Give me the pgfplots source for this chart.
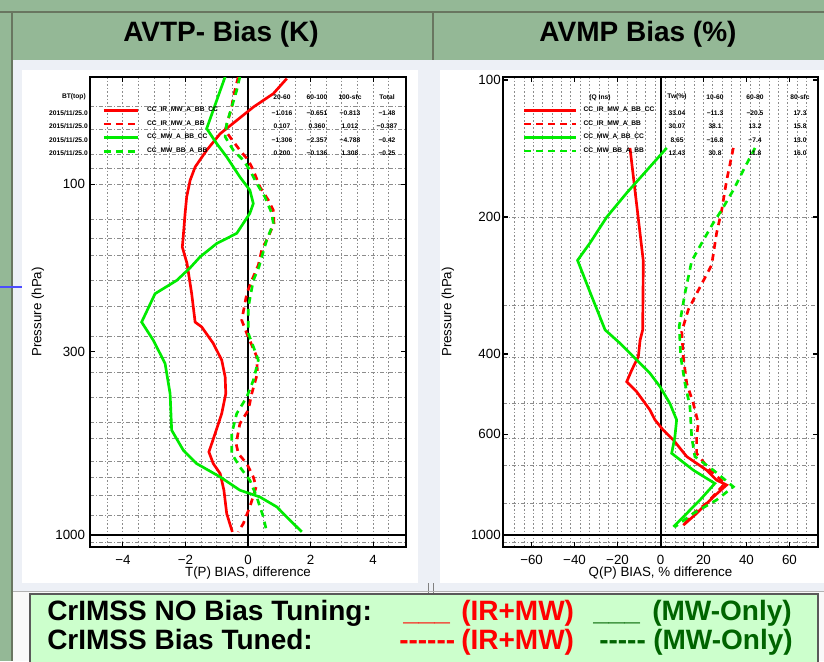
\documentclass[border=0pt]{standalone}
\usepackage{pgfplots}
\pgfplotsset{compat=1.18}
\usepackage{fontspec}
\setmainfont{Liberation Sans}
\definecolor{hdrgreen}{RGB}{148,184,150}
\definecolor{hdrline}{RGB}{105,118,96}
\definecolor{contentbg}{RGB}{237,240,246}
\definecolor{boxgreen}{RGB}{204,255,204}
\definecolor{pred}{RGB}{255,0,0}
\definecolor{pgreen}{RGB}{0,235,0}
\definecolor{dkgreen}{RGB}{0,100,0}
\definecolor{gridgray}{RGB}{140,140,140}
\tikzset{
 rs/.style={pred, line width=2pt},
 rd/.style={pred, line width=2pt, dash pattern=on 5pt off 4pt},
 gs/.style={pgreen, line width=2pt},
 gd/.style={pgreen, line width=2pt, dash pattern=on 5pt off 4pt},
}
\begin{document}
\begin{tikzpicture}
\begin{scope}[x=0.75pt,y=-0.75pt]
\path[use as bounding box] (0,0) rectangle (824,661);
\fill[hdrgreen] (0,0) rectangle (824,661);
\fill[contentbg] (13,60) rectangle (824,591);
\fill[white] (22,70) rectangle (418,583);
\fill[white] (440,70) rectangle (824,583);
\fill[white!95!gray] (13,591) rectangle (824,661);
\draw[hdrline, line width=1.2pt] (0,12) -- (824,12);
\draw[hdrline, line width=1.2pt] (12,12) -- (12,661);
\draw[hdrline, line width=1.2pt] (433,12) -- (433,60);
\draw[gray, line width=0.6pt] (428,583) -- (428,596);
\draw[gray, line width=0.6pt] (433,583) -- (433,596);
\draw[gray!60, line width=0.6pt] (13,591) -- (824,591);
\draw[blue!70, line width=0.8pt] (0,287) -- (22,287);
\filldraw[fill=boxgreen, draw=gray!70!black, line width=1pt] (30,594) rectangle (818,666);
\node[font=\fontsize{21}{25}\selectfont\bfseries] at (221,34) {AVTP- Bias (K)};
\node[font=\fontsize{21}{25}\selectfont\bfseries] at (638,34) {AVMP Bias (\%)};
\end{scope}

% ---------------- left axis: temperature bias
\begin{axis}[scale only axis, anchor=south west, ymode=log, y dir=reverse,
 at={(67.5pt,-410.25pt)}, width=237pt, height=352.5pt,
 axis line style={black, line width=1.5pt},
 tick style={black, line width=0.8pt},
 major tick length=3.75pt, minor tick length=0pt, tick align=inside,
 xmajorgrids=false, ymajorgrids=false, xminorgrids=true, yminorgrids=true,
 minor x grid style={gridgray, line width=0.6pt, dash pattern=on 1.2pt off 1.5pt},
 minor y grid style={gridgray, line width=0.6pt, dash pattern=on 3pt off 1.5pt on 0.8pt off 1.5pt},
 tick label style={font=\fontsize{10}{12}\selectfont},
 xticklabel style={anchor=center, yshift=-9.75pt},
 yticklabel style={anchor=east, inner sep=0pt, xshift=-3.5pt},
 label style={font=\fontsize{10}{12}\selectfont},
 legend cell align=left,
 legend style={draw=none, fill=none, inner sep=0pt, outer sep=0pt,
     font=\fontsize{5}{6}\selectfont\bfseries, row sep=5.2pt,
     nodes={inner sep=0pt}, at={(axis cs:-4.65,60.3)}, anchor=north west},
 legend image code/.code={\draw[#1] (0pt,0pt) -- (25.5pt,0pt); \path (31.5pt,0pt);},
 xmin=-5.05, xmax=5.05, ymin=49.5, ymax=1080,
 xtick={-4,-2,0,2,4}, xticklabels={−4,−2,0,2,4},
 ytick={100,300,1000}, yticklabels={100,300,1000},
 minor xtick={-4.5,-4,...,4.5},
 minor ytick={60,70,82,90,100,126,143,159,188,223,271,311,343,404,477,529,615,684,769,877,1047},
 xlabel={T(P) BIAS, difference}, ylabel={Pressure (hPa)},
 xlabel style={at={(axis description cs:0.5,-0.0553)}, anchor=center},
 ylabel style={at={(axis description cs:-0.165,0.5)}, anchor=center},
]
\addplot[black, line width=1.5pt, forget plot] coordinates {(0,40) (0,1200)};
\addplot[black, line width=1.5pt, forget plot] coordinates {(-5.05,1000) (5.05,1000)};
\addplot[rs] coordinates {(1.24,50) (0.81,55.2) (0.17,60.3) (-0.36,65.8) (-0.89,71.8) (-1.32,80) (-1.69,89.3) (-1.85,97.5) (-1.96,108.7) (-2.01,121) (-2.07,141) (-2.1,151) (-1.95,168) (-1.8,205) (-1.69,247) (-1.48,255) (-1.11,284) (-0.84,317) (-0.73,354) (-0.71,395) (-0.84,450) (-1.05,513) (-1.25,579) (-1.11,625) (-0.89,667) (-0.77,744) (-0.68,868) (-0.5,978)};
\addplot[rd] coordinates {(-0.31,49.4) (-0.47,56.4) (-0.52,60.3) (-0.73,70.2) (-0.58,73.3) (-0.26,80) (0.01,85.4) (0.17,91.2) (0.38,101.8) (0.65,111) (0.81,118.7) (0.83,129.4) (0.65,141) (0.44,154) (0.33,170) (0.12,188) (-0.04,205) (-0.2,244) (-0.04,266) (0.28,310) (0.3,346) (0.12,395) (0.01,440) (-0.26,481) (-0.38,548) (-0.31,585) (-0.04,625) (0.17,682) (0.26,728) (0.06,830) (-0.15,926) (-0.31,978)};
\addplot[gs] coordinates {(-0.73,49.4) (-1.0,57.7) (-1.32,69.4) (-1.0,76.6) (-0.68,83.6) (-0.26,95.3) (0.06,104) (0.17,113.5) (0.06,121) (-0.36,138) (-1.0,147.5) (-1.53,161) (-1.85,173) (-2.28,188) (-2.97,205) (-3.4,247) (-3.03,278) (-2.65,324) (-2.49,395) (-2.44,502) (-2.07,572) (-1.64,625) (-0.89,682) (-0.26,744) (0.38,778) (0.92,830) (1.24,887) (1.72,978)};
\addplot[gd] coordinates {(-0.26,49.4) (-0.36,54) (-0.52,60.3) (-0.68,67.2) (-0.73,73.3) (-0.47,80) (-0.15,85.4) (0.06,91.2) (0.28,99.5) (0.54,108.7) (0.76,121) (0.81,129.4) (0.6,144) (0.44,161) (0.35,172) (0.17,188) (0.01,224) (0.01,266) (0.17,290) (0.33,317) (0.17,362) (-0.04,404) (-0.36,450) (-0.52,513) (-0.52,585) (-0.26,639) (0.06,697) (0.28,778) (0.49,887) (0.6,978)};
\legend{CC\_IR\_MW\_A\_BB\_CC, CC\_IR\_MW\_A\_BB, CC\_MW\_A\_BB\_CC, CC\_MW\_BB\_A\_BB}
\end{axis}

% ---------------- right axis: moisture bias
\begin{axis}[scale only axis, anchor=south west, ymode=log, y dir=reverse,
 at={(377.25pt,-410.25pt)}, width=236.25pt, height=352.5pt,
 axis line style={black, line width=1.5pt},
 tick style={black, line width=0.8pt},
 major tick length=3.75pt, minor tick length=0pt, tick align=inside,
 xmajorgrids=false, ymajorgrids=false, xminorgrids=true, yminorgrids=true,
 minor x grid style={gridgray, line width=0.6pt, dash pattern=on 1.2pt off 1.5pt},
 minor y grid style={gridgray, line width=0.6pt, dash pattern=on 3pt off 1.5pt on 0.8pt off 1.5pt},
 tick label style={font=\fontsize{10}{12}\selectfont},
 xticklabel style={anchor=center, yshift=-9.75pt},
 yticklabel style={anchor=east, inner sep=0pt, xshift=-1.5pt},
 label style={font=\fontsize{10}{12}\selectfont},
 legend cell align=left,
 legend style={draw=none, fill=none, inner sep=0pt, outer sep=0pt,
     font=\fontsize{5}{6}\selectfont\bfseries, row sep=5.2pt,
     nodes={inner sep=0pt}, at={(axis cs:-64,114.6)}, anchor=north west},
 legend image code/.code={\draw[#1] (0pt,0pt) -- (39pt,0pt); \path (43.5pt,0pt);},
 xmin=-73.3, xmax=73.3, ymin=98.5, ymax=1062,
 xtick={-60,-40,-20,0,20,40,60}, xticklabels={−60,−40,−20,0,20,40,60},
 ytick={100,200,400,600,1000}, yticklabels={100,200,400,600,1000},
 minor xtick={-67.9,-63.54,-59.18,-54.82,-50.46,-46.1,-41.74,-37.38,-33.02,-28.66,-24.3,-19.94,-15.58,-11.22,-6.86,-2.5,2.5,6.86,11.22,15.58,19.94,24.3,28.66,33.02,37.38,41.74,46.1,50.46,54.82,59.18,63.54,67.9},
 minor ytick={200,312,406,513,612,702,851,1036},
 xlabel={Q(P) BIAS, \% difference}, ylabel={Pressure (hPa)},
 xlabel style={at={(axis description cs:0.5,-0.0553)}, anchor=center},
 ylabel style={at={(axis description cs:-0.175,0.5)}, anchor=center},
]
\addplot[black, line width=1.5pt, forget plot] coordinates {(0,90) (0,1200)};
\addplot[black, line width=1.5pt, forget plot] coordinates {(-73.3,1000) (73.3,1000)};
\addplot[rs] coordinates {(-14.2,141) (-8.0,250) (-8.3,354) (-9.5,373) (-10.3,405) (-13.4,434) (-15.7,460) (-11.1,484) (-4.9,531) (-2.6,558) (1.3,588) (6.0,618) (12.2,672) (21.5,720) (26.1,757) (30.8,776) (24.6,824) (16.8,896) (10.6,951)};
\addplot[rd] coordinates {(33.9,141) (30.8,166) (28.5,193) (26.1,217) (23.8,255) (18.4,285) (12.9,320) (9.9,357) (10.6,405) (12.2,464) (15.3,514) (17.6,568) (16.8,608) (16.8,661) (23.0,720) (30.0,770) (21.5,851) (15.3,896) (11.4,942)};
\addplot[gs] coordinates {(2.9,141) (-6.4,158) (-15.7,177) (-25.0,200) (-32.8,228) (-38.6,249) (-32.0,299) (-25.8,354) (-18.8,379) (-11.1,412) (-4.9,441) (-0.2,472) (4.4,514) (7.5,558) (6.7,608) (5.2,661) (15.3,720) (25.3,770) (18.4,837) (12.2,896) (6.0,959)};
\addplot[gd] coordinates {(44.0,141) (38.5,158) (33.9,174.5) (28.5,193) (24.6,206) (19.9,225) (14.5,250) (11.4,294) (8.7,348) (9.4,405) (11.4,464) (13.7,522) (14.5,608) (16.0,672) (24.6,720) (33.9,783) (26.1,837) (15.3,896) (6.7,959)};
\legend{CC\_IR\_MW\_A\_BB\_CC, CC\_IR\_MW\_A\_BB, CC\_MW\_A\_BB\_CC, CC\_MW\_BB\_A\_BB}
\end{axis}

\begin{scope}[x=0.75pt,y=-0.75pt]
\begin{scope}[every node/.style={font=\fontsize{5}{6}\selectfont\bfseries, inner sep=0pt}]
\node[anchor=east] at (86,97) {BT(top)};
\foreach \yy in {113,126.5,140,153.5} {\node[anchor=east] at (88,\yy) {2015/11/25.0};}
\node at (282,97) {20-60}; \node at (317,97) {60-100}; \node at (350,97) {100-sfc}; \node at (387,97) {Total};
\node at (282,113) {−1.016}; \node at (317,113) {−0.651}; \node at (350,113) {−0.813}; \node at (387,113) {−1.48};
\node at (282,126.5) {0.107}; \node at (317,126.5) {0.360}; \node at (350,126.5) {1.012}; \node at (387,126.5) {−0.387};
\node at (282,140) {−1.306}; \node at (317,140) {−2.357}; \node at (350,140) {−4.788}; \node at (387,140) {−0.42};
\node at (282,153.5) {0.200}; \node at (317,153.5) {−0.136}; \node at (350,153.5) {1.308}; \node at (387,153.5) {−0.25};
\node at (600,98) {(Q Ins)};
\node at (677,97) {Tw(\%)}; \node at (715,97) {10-60}; \node at (755,97) {60-80}; \node at (800,97) {80-sfc};
\node at (677,113) {33.04}; \node at (715,113) {−11.3}; \node at (755,113) {−20.5}; \node at (800,113) {17.3};
\node at (677,126.5) {30.07}; \node at (715,126.5) {38.1}; \node at (755,126.5) {13.2}; \node at (800,126.5) {15.8};
\node at (677,140) {8.65}; \node at (715,140) {−16.8}; \node at (755,140) {−7.4}; \node at (800,140) {13.0};
\node at (677,153.5) {12.43}; \node at (715,153.5) {30.8}; \node at (755,153.5) {11.8}; \node at (800,153.5) {16.0};
\end{scope}
\begin{scope}[every node/.style={font=\fontsize{21}{25}\selectfont\bfseries, anchor=base west, inner sep=0pt}]
\node at (47,620) {CrIMSS NO Bias Tuning:};
\node[text=pred] at (403,620) {\_\_\_};
\node[text=pred] at (461,620) {(IR+MW)};
\node[text=dkgreen] at (593,620) {\_\_\_};
\node[text=dkgreen] at (652,620) {(MW-Only)};
\node at (47,649) {CrIMSS Bias Tuned:};
\node[text=pred] at (399,649) {-\kern0pt-\kern0pt-\kern0pt-\kern0pt-\kern0pt-};
\node[text=pred] at (461,649) {(IR+MW)};
\node[text=dkgreen] at (599,649) {-\kern0pt-\kern0pt-\kern0pt-\kern0pt-};
\node[text=dkgreen] at (653,649) {(MW-Only)};
\end{scope}
\end{scope}
\end{tikzpicture}
\end{document}
